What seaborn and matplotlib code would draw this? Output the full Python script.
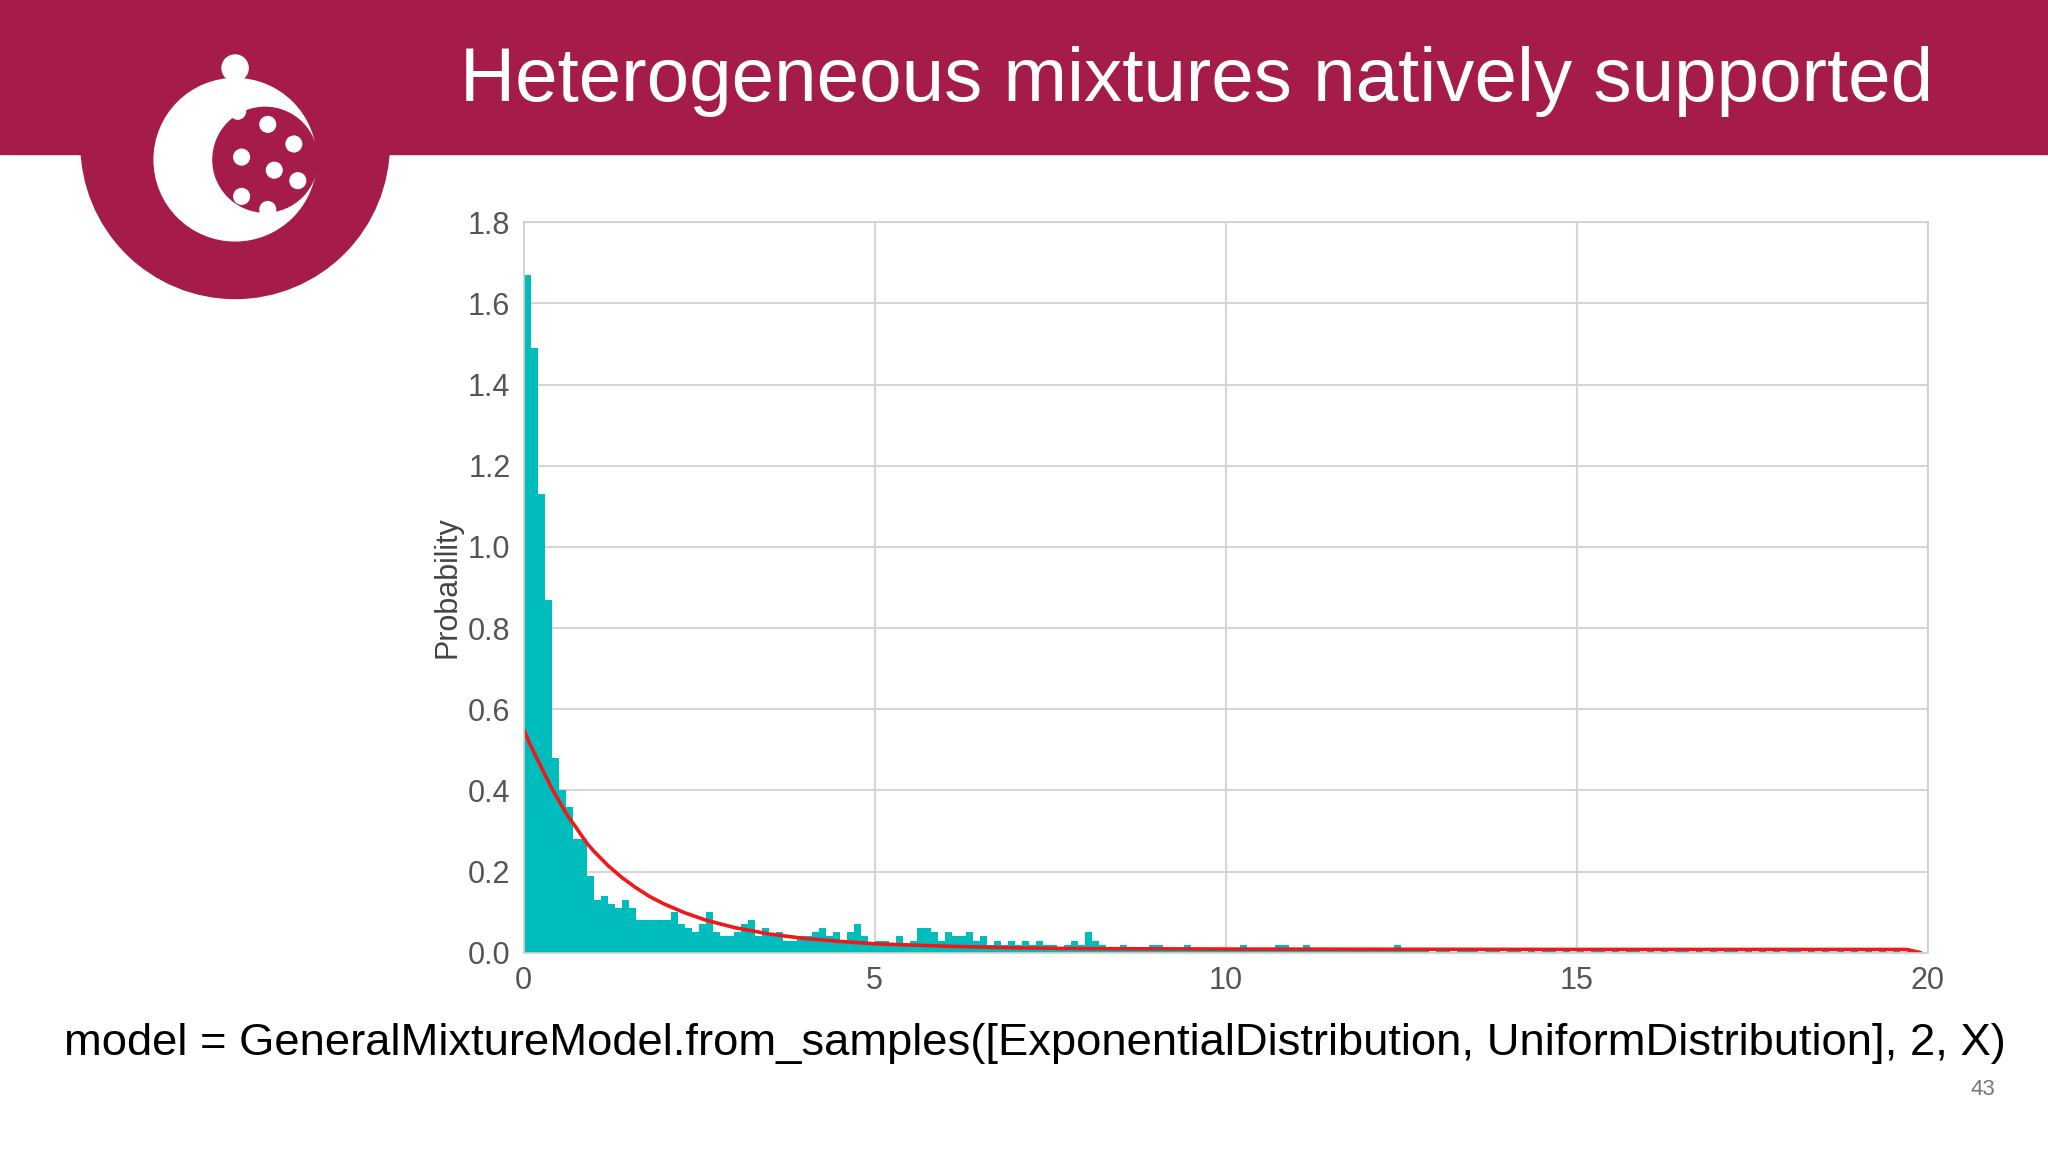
import numpy as np
import pandas as pd
import matplotlib
matplotlib.use("Agg")
import matplotlib.pyplot as plt
import seaborn as sns
from matplotlib.patches import Circle, Rectangle

# histogram heights, bins of width 0.1 from 0 to 20
heights_0_5 = [1.67, 1.49, 1.13, 0.87, 0.48, 0.40, 0.36, 0.28, 0.28, 0.19,
               0.13, 0.14, 0.12, 0.11, 0.13, 0.11, 0.08, 0.08, 0.08, 0.08,
               0.08, 0.10, 0.07, 0.06, 0.05, 0.07, 0.10, 0.05, 0.04, 0.04,
               0.05, 0.07, 0.08, 0.04, 0.06, 0.04, 0.05, 0.03, 0.03, 0.04,
               0.04, 0.05, 0.06, 0.04, 0.05, 0.03, 0.05, 0.07, 0.04, 0.02]
heights_5_10 = [0.03, 0.03, 0.02, 0.04, 0.02, 0.03, 0.06, 0.06, 0.05, 0.03,
                0.05, 0.04, 0.04, 0.05, 0.03, 0.04, 0.02, 0.03, 0.02, 0.03,
                0.02, 0.03, 0.02, 0.03, 0.02, 0.02, 0.01, 0.02, 0.03, 0.02,
                0.05, 0.03, 0.02, 0.01, 0.01, 0.02, 0.01, 0.01, 0.01, 0.02,
                0.02, 0.01, 0.01, 0.01, 0.02, 0.01, 0.01, 0.01, 0.01, 0.01]
heights_10_15 = [0.01, 0.01, 0.02, 0.01, 0.01, 0.01, 0.01, 0.02, 0.02, 0.01,
                 0.01, 0.02, 0.01, 0.01, 0.01, 0.01, 0.01, 0.01, 0.01, 0.01,
                 0.01, 0.01, 0.01, 0.01, 0.02, 0.01, 0.01, 0.01, 0.01, 0.0,
                 0.005, 0.005, 0.0, 0.005, 0.005, 0.005, 0.0, 0.005, 0.005, 0.0,
                 0.005, 0.005, 0.0, 0.005, 0.0, 0.005, 0.005, 0.0, 0.005, 0.0]
heights_15_20 = [0.005, 0.0, 0.005, 0.005, 0.0, 0.005, 0.0, 0.005, 0.005, 0.0,
                 0.005, 0.0, 0.005, 0.0, 0.005, 0.005, 0.0, 0.005, 0.0, 0.005,
                 0.0, 0.005, 0.005, 0.0, 0.005, 0.0, 0.005, 0.0, 0.005, 0.0,
                 0.005, 0.005, 0.0, 0.005, 0.0, 0.005, 0.0, 0.005, 0.0, 0.005,
                 0.0, 0.005, 0.0, 0.005, 0.0, 0.005, 0.0, 0.005, 0.0, 0.0]
heights = heights_0_5 + heights_5_10 + heights_10_15 + heights_15_20

# fitted mixture density
curve_x = [0, 0.1, 0.2, 0.3, 0.4, 0.5, 0.6, 0.7, 0.8, 0.9, 1.0, 1.2, 1.4, 1.6,
           1.8, 2.0, 2.3, 2.6, 3.0, 3.5, 4.0, 4.5, 5.0, 6.0, 7.0, 8.0, 10.0,
           15.0, 19.7, 19.9]
curve_y = [0.55, 0.51, 0.475, 0.44, 0.405, 0.375, 0.345, 0.32, 0.295, 0.27,
           0.25, 0.215, 0.185, 0.16, 0.138, 0.12, 0.098, 0.08, 0.062, 0.046,
           0.035, 0.028, 0.022, 0.016, 0.012, 0.010, 0.009, 0.008, 0.008, 0.0]

hist = pd.DataFrame({"x": np.arange(len(heights)) * 0.1 + 0.05, "w": heights})
curve = pd.DataFrame({"x": curve_x, "y": curve_y})

sns.set_theme(style="whitegrid")
plt.rcParams['font.family'] = ['Liberation Sans', 'DejaVu Sans']

fig = plt.figure(figsize=(20.48, 11.52), dpi=100)
crimson = "#A61C48"

# background layer in slide pixel units (1568 x 880)
bg = fig.add_axes([0, 0, 1, 1])
bg.set_xlim(0, 1568)
bg.set_ylim(880, 0)
bg.axis("off")
bg.add_patch(Rectangle((0, 0), 1568, 118, color=crimson))
bg.add_patch(Circle((180, 110), 118, color=crimson))
bg.add_patch(Circle((180, 122), 62, color="white"))
bg.add_patch(Circle((203, 122), 40, color=crimson))
for (px, py) in [(182, 85), (205, 95), (225, 110), (185, 120), (210, 130),
                 (228, 138), (185, 150), (205, 160)]:
    bg.add_patch(Circle((px, py), 6, color="white"))
bg.add_patch(Circle((180, 52), 10, color="white"))
bg.text(1480, 62, "Heterogeneous mixtures natively supported", color="white",
        fontsize=55, ha="right", va="center")
bg.text(792, 797,
        "model = GeneralMixtureModel.from_samples([ExponentialDistribution, UniformDistribution], 2, X)",
        fontsize=32.7, ha="center", va="center", color="black")
bg.text(1518, 832, "43", fontsize=16, color="#777777", ha="center", va="center")

ax = fig.add_axes([0.2557, 0.173, 0.6856, 0.634])
sns.histplot(data=hist, x="x", weights="w", bins=len(heights), binrange=(0, 20),
             color="#00BDBD", alpha=1, edgecolor="none", linewidth=0, ax=ax)
sns.lineplot(data=curve, x="x", y="y", color="#F01818", linewidth=2.6, ax=ax)
ax.set_xlim(0, 20)
ax.set_ylim(0, 1.8)
ax.set_xticks([0, 5, 10, 15, 20])
ax.set_yticks(np.arange(0, 1.81, 0.2))
ax.set_yticklabels([f"{v:.1f}" for v in np.arange(0, 1.81, 0.2)])
ax.set_xlabel("")
ax.set_ylabel("Probability", fontsize=22, color="#444444")
ax.tick_params(labelsize=22, colors="#555555")
ax.grid(color="#D5D5D5", linewidth=1.5)
for s in ax.spines.values():
    s.set_color("#D0D0D0")

fig.savefig("out.png", dpi=100)
